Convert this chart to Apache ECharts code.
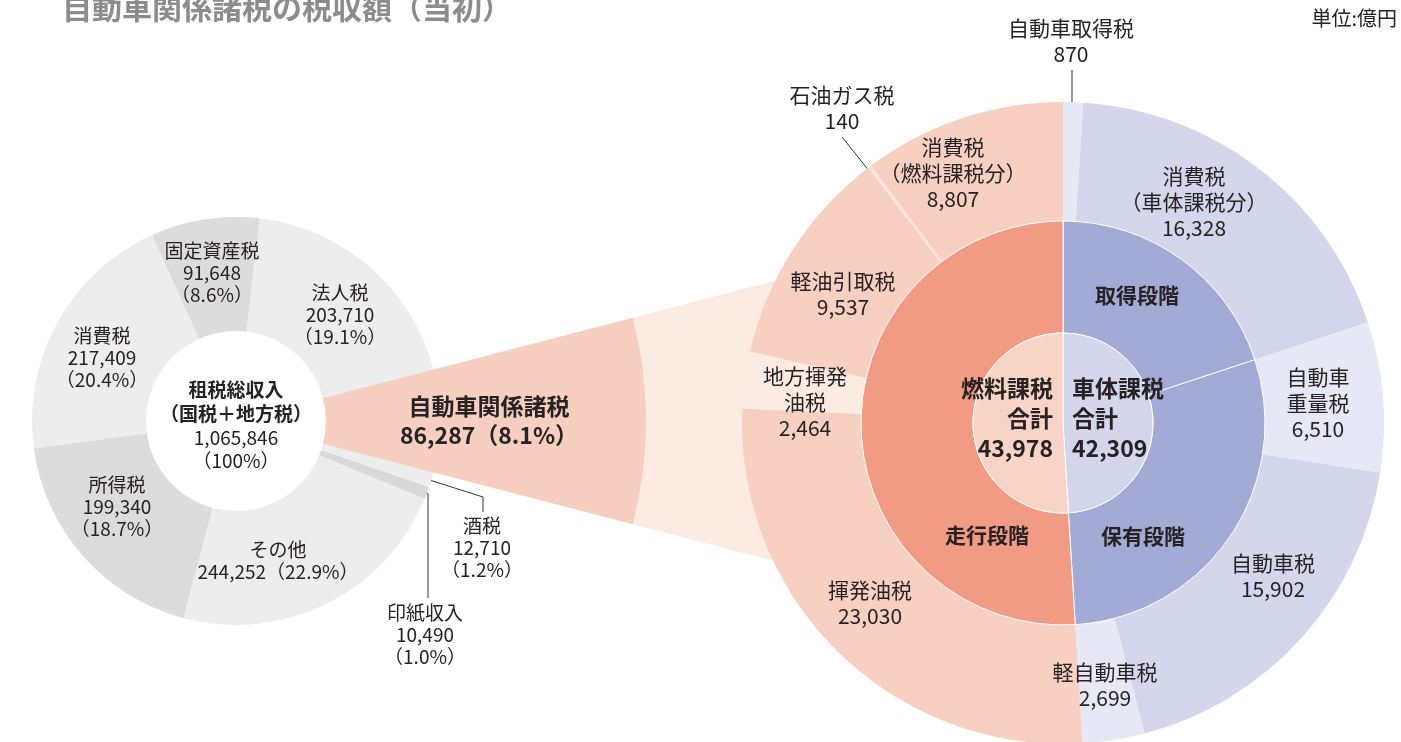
<!DOCTYPE html>
<html>
<head>
<meta charset="utf-8">
<script src="https://cdn.jsdelivr.net/npm/echarts@6/dist/echarts.min.js"></script>
<style>
  html, body { margin: 0; padding: 0; background: #fff; }
  #chart { width: 1401px; height: 742px; }
</style>
</head>
<body>
<div id="chart"></div>
<script>
// ---- Data (億円) ----
// Total tax revenue, counter-clockwise from the 自動車関係諸税 slice
const revenueNames = ['法人税', '固定資産税', '消費税', '所得税', 'その他', '印紙収入', '酒税', '自動車関係諸税'];
const revenueValues = [203710, 91648, 217409, 199340, 244252, 10490, 12710, 86287];

// Vehicle-body taxes, clockwise from 12 o'clock
const bodyTaxNames = ['自動車取得税', '消費税\n（車体課税分）', '自動車\n重量税', '自動車税', '軽自動車税'];
const bodyTaxValues = [870, 16328, 6510, 15902, 2699];
const bodyTaxStage = [0, 0, 1, 1, 1]; // index into stageNames

// Fuel taxes, continuing clockwise
const fuelTaxNames = ['揮発油税', '地方揮発\n油税', '軽油引取税', '石油ガス税', '消費税\n（燃料課税分）'];
const fuelTaxValues = [23030, 2464, 9537, 140, 8807];

const stageNames = ['取得段階', '保有段階', '走行段階'];
const groupNames = ['車体課税\n合計', '燃料課税\n合計'];
const totalName = ['租税総収入', '（国税＋地方税）'];

// ---- Derived values ----
const sum = a => a.reduce((s, v) => s + v, 0);
const fmt = v => echarts.format.addCommas(v);
const revenueTotal = sum(revenueValues);
const vehicleIdx = revenueNames.length - 1;
const vehicleValue = revenueValues[vehicleIdx];
const pct = v => (v / revenueTotal * 100).toFixed(1);
const bodyTotal = sum(bodyTaxValues);
const fuelTotal = sum(fuelTaxValues);
const stageValues = [
  sum(bodyTaxValues.filter((v, i) => bodyTaxStage[i] === 0)),
  sum(bodyTaxValues.filter((v, i) => bodyTaxStage[i] === 1)),
  fuelTotal
];
const outerNames = bodyTaxNames.concat(fuelTaxNames);
const outerValues = bodyTaxValues.concat(fuelTaxValues);

// ---- Geometry & style ----
const FONT = '"Noto Sans CJK JP", "Noto Sans", sans-serif';
const TEXT = '#262223';
const LEFT_C = [236, 421];
const LEFT_R = [90, 204];
const FUNNEL_SPLIT = 410;
const FUNNEL_END = 600;
const RIGHT_C = [1063, 423];
const R_IN = 90, R_MID = 202, R_OUT = 321;
const leftStart = vehicleValue / revenueTotal * 180; // vehicle slice centred on 3 o'clock

const SALMON = '#f7cfc1';
const PALE = '#fcebe3';
const revenueColors = ['#ededed', '#dcdcdc', '#ededed', '#dcdcdc', '#ededed', '#d9d9d9', '#ededed', SALMON];
const outerColors = ['#e7e8f5', '#d4d6ec', '#e7e8f5', '#d4d6ec', '#e7e8f5',
                     '#f7d0c2', PALE, '#f7d0c2', '#fbe4da', '#f7d0c2'];
const stageColors = ['#a3aad6', '#a3aad6', '#f19b85'];
const groupColors = ['#d4d6ec', '#f8d4c6'];

// Label placement (centre points) and leader lines
const leftLabelPos = [[340, 315], [212, 273], [102, 358], [117, 507], [278, 561], [425, 635], [482, 548], null];
const leftInlinePct = [false, false, false, false, true, false, false, false];
const leftLeaders = { 5: [[415, 489], [428, 494], [428, 598]], 6: [[420, 477], [483, 497], [483, 512]] };
const outerLabelPos = [[1071, 41], [1194, 202], [1318, 403], [1273, 576], [1105, 685],
                       [870, 603], [805, 402], [843, 294], [842, 108], [953, 173]];
const outerLeaders = { 0: [[1072, 125], [1072, 98], [1072, 70]], 8: [[882, 187], [862, 162], [842, 137]] };
const stageLabelPos = [[1137, 295], [1143, 536], [987, 535]];
const groupLabelPos = [[1072, 418], [1053, 418]];
const groupAlign = ['left', 'right'];

function placeLabels(positions, leaders, aligns) {
  return function (p) {
    const pos = positions[p.dataIndex];
    if (!pos) return {};
    const out = {
      x: pos[0], y: pos[1],
      align: aligns ? aligns[p.dataIndex] : 'center',
      verticalAlign: 'middle'
    };
    if (leaders && leaders[p.dataIndex]) out.labelLinePoints = leaders[p.dataIndex];
    return out;
  };
}

const hidden = { color: 'rgba(0,0,0,0)' };
const pieBase = {
  type: 'pie',
  silent: true,
  avoidLabelOverlap: false,
  emphasis: { disabled: true },
  labelLine: { show: false }
};

const option = {
  animation: false,
  backgroundColor: '#fff',
  textStyle: { fontFamily: FONT },
  graphic: [
    {
      type: 'text', x: 62, y: 8,
      style: { text: '自動車関係諸税の税収額（当初）', fontFamily: FONT, fontSize: 30, fontWeight: 'bold',
               fill: '#8c8c8c', verticalAlign: 'middle' }
    },
    {
      type: 'text', x: 1397, y: 18,
      style: { text: '単位:億円', fontFamily: FONT, fontSize: 20, fill: TEXT, align: 'right', verticalAlign: 'middle' }
    },
    {
      type: 'text', x: LEFT_C[0], y: LEFT_C[1] + 4,
      style: {
        text: '{b|' + totalName[0] + '}\n{b|' + totalName[1] + '}\n{n|' + fmt(revenueTotal) + '}\n{n|（100%）}',
        align: 'center', verticalAlign: 'middle', fill: TEXT,
        rich: {
          b: { fontFamily: FONT, fontSize: 19, fontWeight: 'bold', lineHeight: 24, fill: TEXT },
          n: { fontFamily: FONT, fontSize: 19, lineHeight: 23, fill: TEXT }
        }
      }
    }
  ],
  series: [
    // Pale outer part of the wedge, tucked under the right-hand rings
    Object.assign({}, pieBase, {
      name: 'fan-far', z: 1,
      center: LEFT_C, radius: [FUNNEL_SPLIT, FUNNEL_END],
      startAngle: leftStart, clockwise: true,
      label: { show: false },
      data: [
        { name: revenueNames[vehicleIdx], value: vehicleValue, itemStyle: { color: PALE } },
        { name: '', value: revenueTotal - vehicleValue, itemStyle: hidden }
      ]
    }),
    // Total tax revenue
    Object.assign({}, pieBase, {
      name: '租税総収入', z: 2,
      center: LEFT_C, radius: LEFT_R,
      startAngle: leftStart, clockwise: false,
      label: {
        show: true, color: TEXT, fontFamily: FONT, fontSize: 19, lineHeight: 22,
        formatter: p => p.name + '\n' + fmt(p.value) + (leftInlinePct[p.dataIndex] ? '' : '\n') + '（' + pct(p.value) + '%）'
      },
      labelLine: { show: false, lineStyle: { color: '#333', width: 1 } },
      labelLayout: placeLabels(leftLabelPos, leftLeaders),
      data: revenueNames.map((n, i) => ({
        name: n, value: revenueValues[i],
        itemStyle: { color: revenueColors[i] },
        label: i === vehicleIdx ? { show: false } : { show: true, position: leftLeaders[i] ? 'outside' : 'inside' },
        labelLine: { show: !!leftLeaders[i], lineStyle: { color: '#333', width: 1 } }
      }))
    }),
    // Salmon wedge fanning out from the 自動車関係諸税 slice
    Object.assign({}, pieBase, {
      name: 'fan-near', z: 3,
      center: LEFT_C, radius: [LEFT_R[0], FUNNEL_SPLIT],
      startAngle: leftStart, clockwise: true,
      label: {
        show: true, position: 'inside', color: TEXT, fontFamily: FONT,
        fontSize: 23, fontWeight: 'bold', lineHeight: 29,
        formatter: p => p.name + '\n' + fmt(p.value) + '（' + pct(p.value) + '%）'
      },
      data: [
        { name: revenueNames[vehicleIdx], value: vehicleValue, itemStyle: { color: SALMON } },
        { name: '', value: revenueTotal - vehicleValue, itemStyle: hidden, label: { show: false } }
      ]
    }),
    // Individual vehicle taxes
    Object.assign({}, pieBase, {
      name: '自動車関係諸税', z: 4,
      center: RIGHT_C, radius: [R_MID, R_OUT],
      startAngle: 90, clockwise: true,
      label: {
        show: true, color: TEXT, fontFamily: FONT, fontSize: 21, lineHeight: 26,
        formatter: p => p.name + '\n' + fmt(p.value)
      },
      labelLayout: placeLabels(outerLabelPos, outerLeaders),
      data: outerNames.map((n, i) => ({
        name: n, value: outerValues[i],
        itemStyle: { color: outerColors[i] },
        label: { show: true, position: outerLeaders[i] ? 'outside' : 'inside' },
        labelLine: { show: !!outerLeaders[i], lineStyle: { color: '#333', width: 1 } }
      }))
    }),
    // Taxation stages
    Object.assign({}, pieBase, {
      name: '段階', z: 4,
      center: RIGHT_C, radius: [R_IN, R_MID],
      startAngle: 90, clockwise: true,
      itemStyle: { borderColor: '#fff', borderWidth: 1 },
      label: {
        show: true, position: 'inside', color: TEXT, fontFamily: FONT, fontSize: 21, fontWeight: 'bold',
        formatter: p => p.name
      },
      labelLayout: placeLabels(stageLabelPos),
      data: stageNames.map((n, i) => ({ name: n, value: stageValues[i], itemStyle: { color: stageColors[i] } }))
    }),
    // Body / fuel totals
    Object.assign({}, pieBase, {
      name: '合計', z: 4,
      center: RIGHT_C, radius: [0, R_IN],
      startAngle: 90, clockwise: true,
      itemStyle: { borderColor: '#fff', borderWidth: 1 },
      label: {
        show: true, position: 'inside', color: TEXT, fontFamily: FONT, fontSize: 23, fontWeight: 'bold', lineHeight: 30,
        formatter: p => p.name + '\n' + fmt(p.value)
      },
      labelLayout: placeLabels(groupLabelPos, null, groupAlign),
      data: groupNames.map((n, i) => ({
        name: n, value: [bodyTotal, fuelTotal][i], itemStyle: { color: groupColors[i] }
      }))
    })
  ]
};

const chart = echarts.init(document.getElementById('chart'));
chart.setOption(option);
</script>
</body>
</html>
